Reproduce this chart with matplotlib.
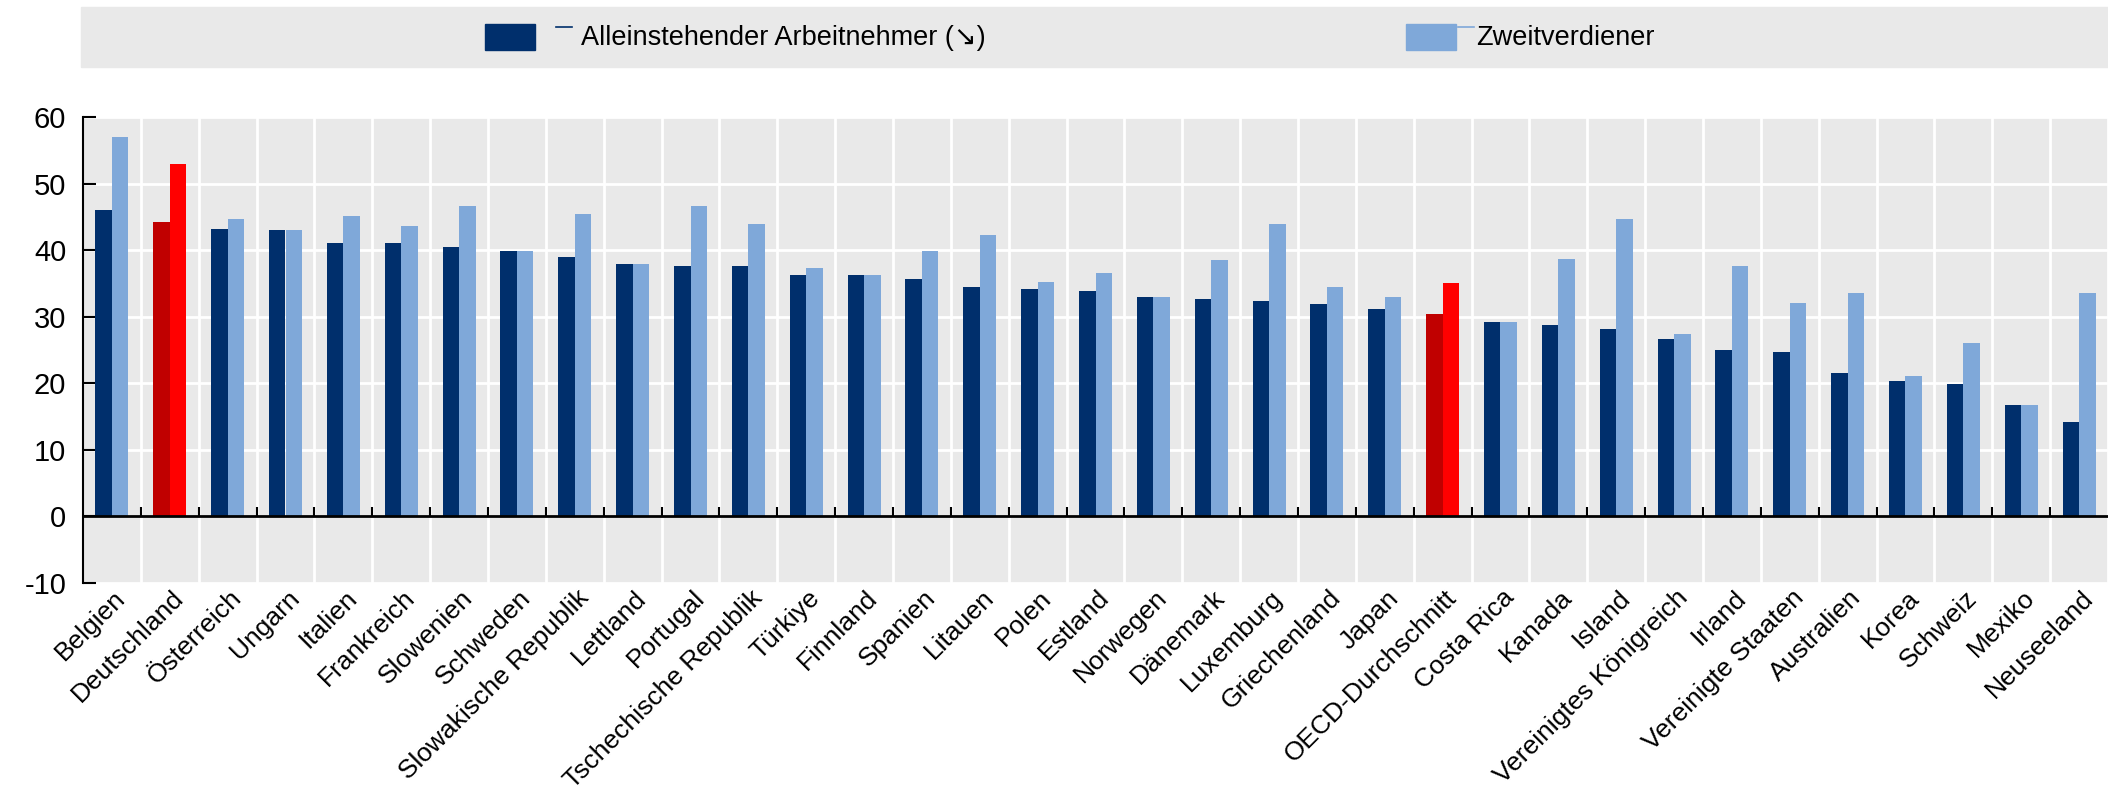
import numpy as np
import matplotlib
matplotlib.use("Agg")
import matplotlib.pyplot as plt
from matplotlib.patches import Rectangle
from matplotlib.lines import Line2D
import matplotlib.transforms as mtransforms

plt.rcParams["font.family"] = ["Liberation Sans", "DejaVu Sans"]

countries = [
    "Belgien", "Deutschland", "Österreich", "Ungarn", "Italien", "Frankreich",
    "Slowenien", "Schweden", "Slowakische Republik", "Lettland", "Portugal",
    "Tschechische Republik", "Türkiye", "Finnland", "Spanien", "Litauen", "Polen",
    "Estland", "Norwegen", "Dänemark", "Luxemburg", "Griechenland", "Japan",
    "OECD-Durchschnitt", "Costa Rica", "Kanada", "Island", "Vereinigtes Königreich",
    "Irland", "Vereinigte Staaten", "Australien", "Korea", "Schweiz", "Mexiko",
    "Neuseeland",
]
single = [
    46.1, 44.2, 43.2, 43.1, 41.1, 41.0, 40.4, 39.8, 39.0, 37.9, 37.6,
    37.6, 36.3, 36.2, 35.7, 34.4, 34.1, 33.8, 32.9, 32.6, 32.3, 31.9, 31.1,
    30.4, 29.2, 28.8, 28.2, 26.6, 25.0, 24.7, 21.5, 20.4, 19.9, 16.8, 14.2,
]
second = [
    57.0, 53.0, 44.7, 43.1, 45.2, 43.7, 46.6, 39.8, 45.4, 37.9, 46.6,
    44.0, 37.3, 36.2, 39.8, 42.2, 35.2, 36.5, 32.9, 38.5, 44.0, 34.4, 32.9,
    35.1, 29.2, 38.6, 44.7, 27.4, 37.6, 32.0, 33.5, 21.1, 26.1, 16.8, 33.5,
]
highlight = ["Deutschland", "OECD-Durchschnitt"]

dark = "#002F6C"
light = "#7FA8D9"
dark_red = "#C00000"
red = "#FF0000"
bg = "#E9E9E9"

W, H = 2108, 797
fig = plt.figure(figsize=(W / 100, H / 100), dpi=100)
ax = fig.add_axes([83 / W, 1 - 583 / H, (W - 83) / W, (583 - 117) / H])
ax.set_facecolor(bg)

x = np.arange(len(countries))
w = 0.285
c1 = [dark_red if c in highlight else dark for c in countries]
c2 = [red if c in highlight else light for c in countries]
ax.bar(x - w / 2, single, w, color=c1, zorder=3)
ax.bar(x + w / 2, second, w, color=c2, zorder=3)

ax.set_xlim(-0.5, len(countries) - 0.5)
ax.set_ylim(-10, 60)
ax.set_yticks(range(-10, 61, 10))
ax.set_yticklabels(["-10", "0", "10", "20", "30", "40", "50", "60"], fontsize=21)
ax.tick_params(axis="y", direction="in", length=9, width=1.5, pad=12)

# grid
ax.set_xticks(x + 0.5, minor=True)
ax.grid(True, which="minor", axis="x", color="white", lw=2, zorder=1)
ax.grid(True, which="major", axis="y", color="white", lw=2, zorder=1)
ax.tick_params(axis="x", which="minor", length=0)

ax.set_xticks(x)
ax.set_xticklabels(countries, rotation=45, ha="right", va="center",
                   rotation_mode="anchor", fontsize=19)
ax.tick_params(axis="x", which="major", length=0, pad=8)
shift = mtransforms.ScaledTranslation(10 / 100, 0, fig.dpi_scale_trans)
for lab in ax.get_xticklabels():
    lab.set_transform(lab.get_transform() + shift)

for s in ["top", "right", "bottom"]:
    ax.spines[s].set_visible(False)
ax.spines["left"].set_linewidth(1.5)
ax.axhline(0, color="black", lw=2, zorder=4)
ax.vlines(x[:-1] + 0.5, 0, 1.4, color="black", lw=1.5, zorder=4)

# legend band
fig.add_artist(Rectangle((81 / W, 1 - 67 / H), 1 - 81 / W, 60 / H,
                         transform=fig.transFigure, color=bg, zorder=0))
entries = [
    ("Alleinstehender Arbeitnehmer (↘)", dark, 485, 71, 96),
    ("Zweitverdiener", light, 1406, 52, 70),
]
for label, col, px, dash_off, text_off in entries:
    fig.add_artist(Rectangle((px / W, 1 - 50 / H), 50 / W, 26 / H,
                             transform=fig.transFigure, color=col))
    fig.add_artist(Line2D([(px + dash_off) / W, (px + dash_off + 16) / W],
                          [1 - 27 / H, 1 - 27 / H],
                          transform=fig.transFigure, color=col, lw=1.2))
    fig.text((px + text_off) / W, 1 - 38 / H, label, fontsize=19.5, va="center", ha="left")

fig.savefig("out.png", dpi=100)
